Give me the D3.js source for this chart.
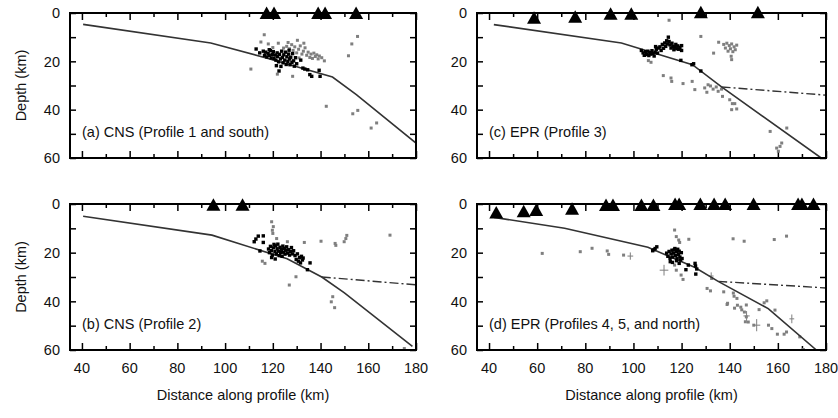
<!DOCTYPE html>
<html><head><meta charset="utf-8">
<script src="https://cdn.jsdelivr.net/npm/d3@7"></script>
<style>body{margin:0;background:#fff}svg{display:block}text{font-family:"Liberation Sans",Arial,Helvetica,sans-serif;fill:#111}</style>
</head><body><svg id="c" width="838" height="418"></svg>
<script>
// ---------- data ----------
const xTicks = [40,60,80,100,120,140,160,180];
const yTicks = [0,20,40,60];
const panelLabels = ["(a) CNS (Profile 1 and south)","(b) CNS (Profile 2)","(c) EPR (Profile 3)","(d) EPR (Profiles 4, 5, and north)"];

const slabA = [[40.5,4.7],[94,12.4],[118,18.8],[145,26.5],[155,33.8],[180,53.8]];
const slabB = [[40.5,5],[94.5,12.8],[126,22.5],[140.5,30],[150,36.5],[178.5,58.5]];
const slabC = [[42,4.8],[95,12.4],[124.5,21.4],[136.6,30.6],[178,60]];
const slabD = [[42.1,5.5],[71.4,10],[106,17.8],[125.4,26],[135.2,31.8],[156,43],[176,60]];
const dashB = [[140.5,30],[180,33.2]];
const dashC = [[136.6,30.6],[180,34]];
const dashD = [[135.2,31.8],[180,34.5]];

const stationsA = [[117.4,0],[120.5,0],[139,0],[141.9,0],[154.9,0]];
const stationsB = [[95.1,0.3],[107.3,0.3]];
const stationsC = [[58.7,2],[75.8,1.5],[90.5,0.3],[99.1,0.3],[128,-0.3],[151.7,-0.3]];
const stationsD = [[43,3.5],[54.4,3],[59.6,2.5],[74.5,2],[88.6,0.4],[91.5,0.4],[103.3,0.4],[108.3,0.4],[117.3,0],[119,0],[127.8,0],[133.5,0],[138.1,0],[149.9,0],[168.4,0],[170,0],[174.8,0]];

const blackA = [[113,14.9],[114.5,16.5],[116,15.8],[116.5,17.5],[117,16.2],[117.5,18.2],[118,16.8],[118.5,17.5],[119,15.6],[119.3,18.6],[119.8,17.2],[120.2,16],[120.5,18.8],[121,17.4],[121.3,19.5],[121.8,16.5],[122,18],[122.4,20.2],[122.8,17.1],[123.2,19],[123.4,22.1],[123.7,15.8],[124,18.4],[124.3,20.6],[124.6,17.3],[125,19.5],[125.3,16.2],[125.6,21.3],[125.9,18.1],[126.3,20],[126.6,17],[127,19],[127.2,21.4],[127.5,18.3],[128,20.4],[128.3,16.8],[128.7,19.8],[129,22],[129.5,18.5],[130,21],[131.7,19.5],[132.6,22.8],[133.4,23.2],[134.6,23.5],[136.3,26.2],[135.5,25.5],[139.4,23.7],[139.8,26.2],[122.6,24],[121.5,21.8],[118.5,15.2],[126.8,15.4]];
const grayA = [[110.8,23.2],[116.4,9],[115,12],[118.1,12.8],[122.3,12.5],[121.9,25.3],[128.3,26.2],[130.3,11.3],[125.8,13.8],[127.9,13.1],[127,14.8],[128.5,15.5],[129.2,14],[130,16.5],[130.8,15],[131.5,13.6],[132.2,17],[132.8,15.8],[133.5,14.4],[134.2,17.5],[134.8,16.2],[135.5,18.4],[136,17],[136.6,18.8],[137.2,16.6],[137.8,18],[138.4,17.3],[139,19],[139.5,17.8],[140.5,18.5],[141.6,19.8],[126.4,12.2],[133,12.5],[124.5,14.5],[151.7,17.7],[153.1,12.8],[155.5,9.7],[142.4,38.6],[153.5,41.7],[155.6,40.3],[161.2,47.6],[163.5,45.5],[120,14.3],[131,18.6]];

const blackB = [[112.2,15.5],[112.9,14.4],[113.9,13.2],[116,13.1],[116,15.8],[114.6,19.3],[118.2,18.5],[118.6,20],[119,17.4],[119.4,19.2],[119.8,21],[120.2,18],[120.5,16.6],[120.9,19.6],[121.2,17.2],[121.5,20.5],[121.8,18.4],[122.1,16.5],[122.4,19.4],[122.7,21.2],[123,17.8],[123.3,20],[123.6,18.6],[123.9,21.5],[124.2,17.3],[124.5,19.8],[124.8,18.2],[125.1,20.6],[125.4,19],[125.8,17.6],[126.2,20.2],[126.6,18.8],[127,21],[127.4,19.5],[127.8,17.9],[128.3,20.5],[129.3,21.2],[129.8,22.8],[130.3,20.5],[130.7,23.5],[131.2,22],[131.6,24.2],[132,21.5],[132.4,23],[132.7,22.2],[135.6,24.2],[134.5,27],[128.7,19.2],[119.5,22],[121,22.6]];
const grayB = [[119.5,7.3],[120.2,9.3],[120,12.1],[121.6,14.2],[126.1,15.5],[133.2,15.8],[140.2,15.3],[146.1,16.2],[149.9,15.5],[150.6,14.2],[151,12.9],[115.6,23.5],[116.7,24.4],[129.7,29.9],[126.9,33.3],[145.1,38.1],[144.5,40.2],[145.9,42.6],[169.1,12.8],[175.1,59.4],[119.8,10.8],[146.4,17]];

const blackC = [[104,16.5],[104.5,17.5],[105,16],[105.5,17.2],[106,15.8],[106.4,17.6],[106.8,16.4],[107.2,17],[107.7,15.6],[108.1,16.8],[108.6,17.8],[109,16.2],[109.5,15],[110,16.6],[111,14],[111.5,15.5],[112,13],[112.5,14.6],[113,12.4],[113.4,13.8],[113.8,11.5],[114.2,12.8],[114.5,10],[114.8,11.8],[115.2,13.2],[115.6,14.5],[116,12.5],[116.4,13.8],[116.8,15.2],[117.2,14],[117.6,13],[118,14.8],[118.4,13.6],[118.8,15],[119.3,14.2],[120,15.5],[120,13.5],[119.7,19.6],[124.3,21.4],[125,21],[128,24],[109.2,13.9],[110.5,14.5],[103.3,15.5]];
const grayC = [[114.8,3],[128,9.7],[135.4,12.1],[133.3,16.6],[137.5,13],[138.2,14.5],[138.8,12.5],[139.3,15.8],[139.8,13.5],[140.3,14.8],[140.8,12.8],[141.3,16],[141.8,14],[142.3,15.2],[142.9,13.3],[140.6,17.9],[140.8,19.3],[107.3,20.4],[106.2,19.7],[112.4,25.9],[115.6,26.9],[115.9,28.3],[120.6,29.2],[124.4,28.3],[125.5,31.7],[129.6,31],[131,29.7],[133.1,31.5],[134.4,30.6],[135.2,32.4],[136.6,31.5],[137,34.5],[140,35.9],[141.1,37.5],[142.1,37.5],[140.8,40],[142.9,39.7],[156.8,49],[163.7,47.6],[159.5,55.9],[161.6,53.8],[160.9,55.2],[160.2,57.2],[132,30.2],[130.5,32.8]];

const blackD = [[108,19.2],[109,18.3],[109.7,17.6],[108.5,18.8],[113.8,20.2],[114.3,21.5],[114.8,19.5],[115.2,22.3],[115.3,23.7],[115.6,20.5],[116,19],[116.3,21.8],[116.7,20.2],[117,18.8],[117.2,18.3],[117.5,21.2],[117.8,19.6],[118.1,22.5],[118.4,18.6],[118.7,20.8],[119,19.4],[119,24.4],[119.3,21.8],[119.6,23],[119.9,20],[120.2,22.4],[116.2,24],[117.9,23.3],[122.8,25.1],[121.8,27],[125.6,24.4],[125.9,28.8],[126.3,26.7],[125.8,25.5]];
const grayD = [[62.1,20.3],[77.9,19.6],[82.8,18.2],[89.1,19.3],[89.7,20.7],[95.9,21],[117.1,10.7],[117.8,13.4],[118.8,14.8],[119.2,15.8],[123,14.5],[117.1,25.1],[117.8,27.2],[120.6,31],[119.8,29.2],[132.5,30.6],[130.6,34.7],[132,35.7],[137.5,36.1],[138.9,41.3],[141.8,37.9],[143,38.8],[142,42.8],[143.2,41.6],[144.6,42.4],[146.9,41.5],[146.1,44.4],[146.9,46.4],[146.5,48.4],[145,43.5],[147.7,48.5],[150,49.8],[154.3,40.6],[152.2,43.4],[158.8,43.6],[156.1,49.8],[157.5,51.2],[159.8,53.5],[162.6,53.5],[163.6,52.6],[169.1,54.6],[170.6,59.8],[141.4,14.3],[146,15.3],[158.5,14.6],[163.6,13.2],[139.1,40.8],[141.5,36.6],[155.4,39.8]];
// [distance, depth, half x-error, half depth-error]
const crossD = [[98.7,21.4,1.2,1.5],[112.7,27.2,1.8,2.2],[132.3,29.6,1,1.5],[147,46,1.3,2],[151.2,49.8,1.5,2.5],[165.8,47.2,1,1.8]];

// ---------- layout ----------
const panels = [
  {label:panelLabels[0], x0:70, x1:416, y0:13, y1:158, slab:slabA, dash:null,  st:stationsA, blk:blackA, gry:grayA, crs:[], bottom:false, left:true},
  {label:panelLabels[1], x0:70, x1:416, y0:204, y1:350, slab:slabB, dash:dashB, st:stationsB, blk:blackB, gry:grayB, crs:[], bottom:true, left:true},
  {label:panelLabels[2], x0:477, x1:826, y0:13, y1:158, slab:slabC, dash:dashC, st:stationsC, blk:blackC, gry:grayC, crs:[], bottom:false, left:false},
  {label:panelLabels[3], x0:477, x1:826, y0:204, y1:350, slab:slabD, dash:dashD, st:stationsD, blk:blackD, gry:grayD, crs:crossD, bottom:true, left:false}
];

const svg = d3.select("#c");
panels.forEach(p => {
  const x = d3.scaleLinear().domain([35,180]).range([p.x0,p.x1]);
  const y = d3.scaleLinear().domain([0,60]).range([p.y0,p.y1]);
  const g = svg.append("g");
  const clipId = "clip"+p.x0+"_"+p.y0;
  svg.append("clipPath").attr("id",clipId).append("rect")
     .attr("x",p.x0).attr("y",p.y0-8).attr("width",p.x1-p.x0).attr("height",p.y1-p.y0+8);

  const xMinor = d3.range(40,181,10);
  const yMinor = d3.range(0,61,10);
  g.append("g").attr("transform",`translate(0,${p.y1})`).call(d3.axisTop(x).tickValues(xMinor).tickSizeInner(0).tickSizeOuter(0).tickFormat(""))
    .call(a=>a.selectAll(".tick line").attr("y2",d=>-(d%20===0?7:4)).attr("stroke","#000").attr("stroke-width",1.5))
    .call(a=>a.select(".domain").remove());
  g.append("g").attr("transform",`translate(0,${p.y0})`).call(d3.axisBottom(x).tickValues(xMinor).tickSizeInner(0).tickSizeOuter(0).tickFormat(""))
    .call(a=>a.selectAll(".tick line").attr("y2",d=>(d%20===0?7:4)).attr("stroke","#000").attr("stroke-width",1.5))
    .call(a=>a.select(".domain").remove());
  g.append("g").attr("transform",`translate(${p.x0},0)`).call(d3.axisRight(y).tickValues(yMinor).tickSizeInner(0).tickSizeOuter(0).tickFormat(""))
    .call(a=>a.selectAll(".tick line").attr("x2",6).attr("stroke","#000").attr("stroke-width",1.5))
    .call(a=>a.select(".domain").remove());
  g.append("g").attr("transform",`translate(${p.x1},0)`).call(d3.axisLeft(y).tickValues(yMinor).tickSizeInner(0).tickSizeOuter(0).tickFormat(""))
    .call(a=>a.selectAll(".tick line").attr("x2",-6).attr("stroke","#000").attr("stroke-width",1.5))
    .call(a=>a.select(".domain").remove());

  g.selectAll(".ylab").data(yTicks).join("text")
    .attr("x",p.x0-10).attr("y",d=>y(d)).attr("dy","0.36em").attr("text-anchor","end")
    .style("font-size","14.5px").text(d=>d);
  if (p.left) {
    g.append("text").attr("transform",`translate(21,${(p.y0+p.y1)/2}) rotate(-90)`)
      .attr("text-anchor","middle").attr("dy","0.36em").style("font-size","14.5px").text("Depth (km)");
  }
  if (p.bottom) {
    g.selectAll(".xlab").data(xTicks).join("text")
      .attr("x",d=>x(d)).attr("y",p.y1+23).attr("text-anchor","middle")
      .style("font-size","14.5px").text(d=>d);
    g.append("text").attr("x",(p.x0+p.x1)/2).attr("y",p.y1+50).attr("text-anchor","middle")
      .style("font-size","14.5px").text("Distance along profile (km)");
  }

  const pg = g.append("g").attr("clip-path",`url(#${clipId})`);
  pg.selectAll(".g").data(p.gry).join("rect")
    .attr("x",d=>x(d[0])-1.5).attr("y",d=>y(d[1])-1.5).attr("width",3).attr("height",3).attr("fill","#7f7f7f");
  const cr = pg.selectAll(".cr").data(p.crs).join("g").attr("stroke","#7f7f7f").attr("stroke-width",1);
  cr.append("line").attr("x1",d=>x(d[0]-d[2])).attr("x2",d=>x(d[0]+d[2])).attr("y1",d=>y(d[1])).attr("y2",d=>y(d[1]));
  cr.append("line").attr("x1",d=>x(d[0])).attr("x2",d=>x(d[0])).attr("y1",d=>y(d[1]-d[3])).attr("y2",d=>y(d[1]+d[3]));
  const line = d3.line().x(d=>x(d[0])).y(d=>y(d[1]));
  pg.append("path").datum(p.slab).attr("d",line).attr("fill","none").attr("stroke","#333").attr("stroke-width",1.6);
  if (p.dash) pg.append("path").datum(p.dash).attr("d",line).attr("fill","none").attr("stroke","#333")
      .attr("stroke-width",1.4).attr("stroke-dasharray","9,3,2,3");
  pg.selectAll(".b").data(p.blk).join("rect")
    .attr("x",d=>x(d[0])-1.7).attr("y",d=>y(d[1])-1.7).attr("width",3.4).attr("height",3.4).attr("fill","#000");

  g.append("rect").attr("x",p.x0).attr("y",p.y0).attr("width",p.x1-p.x0).attr("height",p.y1-p.y0)
    .attr("fill","none").attr("stroke","#000").attr("stroke-width",2);

  g.selectAll(".st").data(p.st).join("path")
    .attr("transform",d=>`translate(${x(d[0])},${y(d[1])})`)
    .attr("d","M0,-6.5L7,6L-7,6Z").attr("fill","#000");

  g.append("text").attr("x",p.x0+12).attr("y",p.y1-21).style("font-size","14.5px").text(p.label);
});
</script></body></html>
